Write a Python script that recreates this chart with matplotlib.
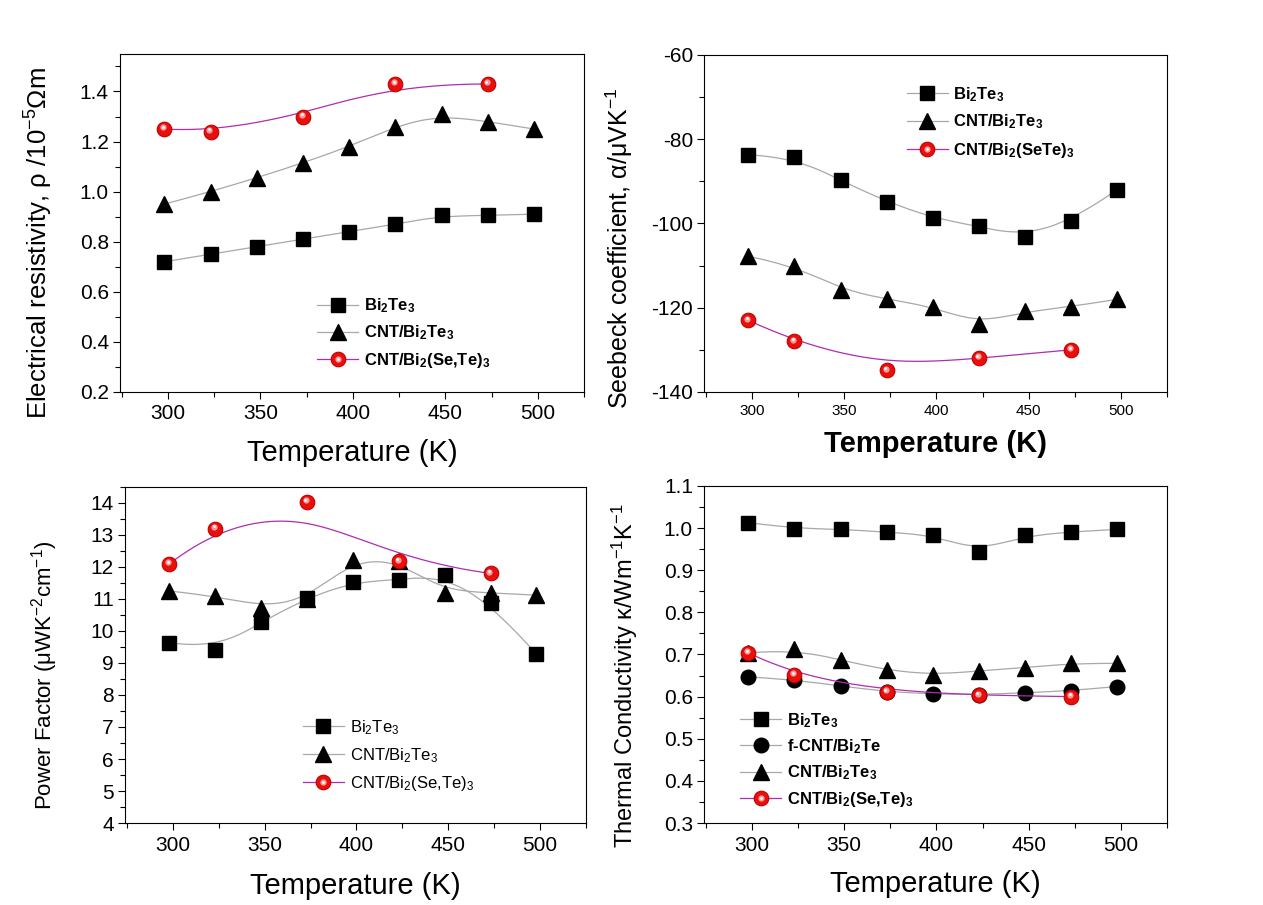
import numpy as np
import matplotlib
matplotlib.use("Agg")
import matplotlib.pyplot as plt
from matplotlib.ticker import MultipleLocator, FormatStrFormatter
from matplotlib.lines import Line2D
from matplotlib.legend_handler import HandlerTuple
import matplotlib.transforms as mtransforms

plt.rcParams['font.family'] = ['Liberation Sans', 'DejaVu Sans']
plt.rcParams['mathtext.fontset'] = 'custom'
plt.rcParams['mathtext.rm'] = 'Liberation Sans'
plt.rcParams['mathtext.it'] = 'Liberation Sans:italic'
plt.rcParams['mathtext.bf'] = 'Liberation Sans:bold'
plt.rcParams['axes.unicode_minus'] = False

# ---------------- data ----------------
T_all = [298, 323, 348, 373, 398, 423, 448, 473, 498]
T_se = [298, 323, 373, 423, 473]

# Electrical resistivity (10^-5 Ohm m)
rho_bt = [0.72, 0.75, 0.78, 0.81, 0.84, 0.87, 0.905, 0.905, 0.91]
rho_cnt = [0.95, 1.00, 1.055, 1.115, 1.18, 1.26, 1.31, 1.28, 1.25]
rho_se = [1.25, 1.24, 1.30, 1.43, 1.43]

# Seebeck coefficient (uV/K)
s_bt = [-83.7, -84.3, -89.8, -94.8, -98.7, -100.7, -103.2, -99.5, -92.0]
s_cnt = [-107.8, -110.0, -115.8, -117.9, -119.8, -123.8, -120.8, -119.8, -118.0]
s_se = [-123.0, -128.0, -134.9, -131.9, -130.0]

# Power factor (uW K^-2 cm^-1)
pf_bt = [9.64, 9.42, 10.28, 11.02, 11.53, 11.60, 11.76, 10.88, 9.28]
pf_cnt = [11.25, 11.10, 10.72, 11.0, 12.22, 12.2, 11.18, 11.2, 11.12]
pf_se = [12.09, 13.2, 14.03, 12.18, 11.8]

# Thermal conductivity (W m^-1 K^-1)
k_bt = [1.013, 0.999, 0.998, 0.990, 0.984, 0.944, 0.984, 0.991, 0.997]
k_fcnt = [0.647, 0.640, 0.625, 0.612, 0.606, 0.605, 0.609, 0.614, 0.624]
k_cnt = [0.704, 0.712, 0.687, 0.663, 0.652, 0.661, 0.669, 0.679, 0.679]
k_se = [0.704, 0.651, 0.611, 0.603, 0.600]

lab_bt = r'Bi$_\mathregular{2}$Te$_\mathregular{3}$'
lab_cnt = r'CNT/Bi$_\mathregular{2}$Te$_\mathregular{3}$'
lab_se = r'CNT/Bi$_\mathregular{2}$(Se,Te)$_\mathregular{3}$'
lab_se2 = r'CNT/Bi$_\mathregular{2}$(SeTe)$_\mathregular{3}$'
lab_fcnt = r'f-CNT/Bi$_\mathregular{2}$Te'

GRAY = '#a8a8a8'
MAG = '#b02cb0'


def bspline(x, y, n=400):
    """Clamped cubic B-spline using the data points as control points
    (like Origin's B-spline connection)."""
    P = np.column_stack([np.asarray(x, float), np.asarray(y, float)])
    m = len(P)
    k = min(3, m - 1)
    inner = np.linspace(0, 1, m - k + 1)
    knots = np.concatenate([np.zeros(k), inner, np.ones(k)])
    t = np.linspace(0, 1, n)
    t[-1] = 1 - 1e-12
    N = np.zeros((n, len(knots) - 1))
    for i in range(len(knots) - 1):
        N[:, i] = (t >= knots[i]) & (t < knots[i + 1])
    for d in range(1, k + 1):
        Nn = np.zeros((n, len(knots) - 1 - d))
        for i in range(len(knots) - 1 - d):
            a = knots[i + d] - knots[i]
            b = knots[i + d + 1] - knots[i + 1]
            term = np.zeros(n)
            if a > 0:
                term += (t - knots[i]) / a * N[:, i]
            if b > 0:
                term += (knots[i + d + 1] - t) / b * N[:, i + 1]
            Nn[:, i] = term
        N = Nn
    C = N @ P
    return C[:, 0], C[:, 1]


fig = plt.figure(figsize=(12.63, 9.05), dpi=100)

ax1 = fig.add_axes([0.0950, 0.5669, 0.3674, 0.3735])
ax2 = fig.add_axes([0.5574, 0.5669, 0.3666, 0.3724])
ax3 = fig.add_axes([0.0990, 0.0906, 0.3650, 0.3713])
ax4 = fig.add_axes([0.5574, 0.0906, 0.3666, 0.3724])


def black_series(ax, x, y, marker, ms, zorder=3):
    xs, ys = bspline(x, y)
    ax.plot(xs, ys, color=GRAY, lw=0.9, zorder=zorder - 1)
    ax.plot(x, y, ls='none', marker=marker, ms=ms, color='black', mec='black',
            zorder=zorder)
    return Line2D([], [], color=GRAY, lw=0.9, marker=marker, ms=ms,
                  mfc='black', mec='black')


def red_series(ax, x, y, zorder=5):
    xs, ys = bspline(x, y)
    ax.plot(xs, ys, color=MAG, lw=0.9, zorder=zorder - 1)
    ax.plot(x, y, ls='none', marker='o', ms=10.5, mfc='#e8100c', mec='#c00000',
            mew=0.8, zorder=zorder)
    tr = mtransforms.offset_copy(ax.transData, fig=fig, x=-0.8, y=1.2, units='points')
    ax.plot(x, y, ls='none', marker='o', ms=4.5, mfc='#ff9a9a', mec='none',
            transform=tr, zorder=zorder + 0.1)
    tr2 = mtransforms.offset_copy(ax.transData, fig=fig, x=-1.0, y=1.6, units='points')
    ax.plot(x, y, ls='none', marker='o', ms=2.0, mfc='white', mec='none',
            transform=tr2, zorder=zorder + 0.2)
    h1 = Line2D([], [], color=MAG, lw=0.9, marker='o', ms=10.5, mfc='#e8100c',
                mec='#c00000', mew=0.8)
    h2 = Line2D([], [], ls='none', marker='o', ms=4.5, mfc='#ff9a9a', mec='none')
    h3 = Line2D([], [], ls='none', marker='o', ms=2.0, mfc='white', mec='none')
    return (h1, h2, h3)


def style(ax, ylo, yhi, ymaj, ymin, xtick_size, ytick_size):
    ax.set_xlim(274, 525)
    ax.set_ylim(ylo, yhi)
    ax.xaxis.set_major_locator(MultipleLocator(50))
    ax.xaxis.set_minor_locator(MultipleLocator(25))
    ax.yaxis.set_major_locator(MultipleLocator(ymaj))
    ax.yaxis.set_minor_locator(MultipleLocator(ymin))
    ax.tick_params(which='both', direction='out', top=False, right=False, width=0.8)
    ax.tick_params(which='major', length=5)
    ax.tick_params(which='minor', length=3.5)
    ax.tick_params(axis='x', labelsize=xtick_size, pad=4)
    ax.tick_params(axis='y', labelsize=ytick_size, pad=3)
    for s in ax.spines.values():
        s.set_linewidth(0.8)


def add_legend(ax, handles, labels, anchor, weight, spacing):
    ax.legend(handles, labels, handler_map={tuple: HandlerTuple(ndivide=1)},
              loc='upper left', bbox_to_anchor=anchor, frameon=False,
              prop={'size': 12, 'weight': weight}, handlelength=2.45,
              handletextpad=0.35, labelspacing=spacing, borderpad=0,
              borderaxespad=0)


# ---- Panel 1: resistivity ----
h_bt = black_series(ax1, T_all, rho_bt, 's', 10)
h_cnt = black_series(ax1, T_all, rho_cnt, '^', 11)
h_se = red_series(ax1, T_se, rho_se)
style(ax1, 0.2, 1.55, 0.2, 0.1, 15, 15)
ax1.yaxis.set_major_formatter(FormatStrFormatter('%.1f'))
ax1.set_xlabel('Temperature (K)', fontsize=21)
ax1.set_ylabel(r'Electrical resistivity, ρ /10$^\mathregular{-5}$Ωm', fontsize=18.5)
ax1.xaxis.set_label_coords(0.5, -0.139)
ax1.yaxis.set_label_coords(-0.141, 0.44)
add_legend(ax1, [h_bt, h_cnt, h_se], [lab_bt, lab_cnt, lab_se],
           (0.425, 0.282), 'bold', 0.5)

# ---- Panel 2: Seebeck ----
h_bt = black_series(ax2, T_all, s_bt, 's', 10)
h_cnt = black_series(ax2, T_all, s_cnt, '^', 11)
h_se = red_series(ax2, T_se, s_se)
style(ax2, -140, -60, 20, 10, 11, 15)
ax2.set_xlabel('Temperature (K)', fontsize=21, fontweight='bold')
ax2.set_ylabel(r'Seebeck coefficient, α/μVK$^\mathregular{-1}$', fontsize=18)
ax2.xaxis.set_label_coords(0.5, -0.113)
ax2.yaxis.set_label_coords(-0.149, 0.427)
add_legend(ax2, [h_bt, h_cnt, h_se], [lab_bt, lab_cnt, lab_se2],
           (0.438, 0.911), 'bold', 0.55)

# ---- Panel 3: power factor ----
h_bt = black_series(ax3, T_all, pf_bt, 's', 10)
h_cnt = black_series(ax3, T_all, pf_cnt, '^', 11)
h_se = red_series(ax3, T_se, pf_se)
style(ax3, 4, 14.5, 1, 0.5, 15, 15)
ax3.set_xlabel('Temperature (K)', fontsize=21)
ax3.set_ylabel(r'Power Factor (μWK$^\mathregular{-2}$cm$^\mathregular{-1}$)', fontsize=16)
ax3.xaxis.set_label_coords(0.5, -0.146)
ax3.yaxis.set_label_coords(-0.141, 0.44)
add_legend(ax3, [h_bt, h_cnt, h_se], [lab_bt, lab_cnt, lab_se],
           (0.386, 0.312), 'normal', 0.55)

# ---- Panel 4: thermal conductivity ----
h_bt = black_series(ax4, T_all, k_bt, 's', 10)
h_fcnt = black_series(ax4, T_all, k_fcnt, 'o', 10.5, zorder=3)
h_cnt = black_series(ax4, T_all, k_cnt, '^', 11)
h_se = red_series(ax4, T_se, k_se)
style(ax4, 0.3, 1.1, 0.1, 0.05, 15, 15)
ax4.yaxis.set_major_formatter(FormatStrFormatter('%.1f'))
ax4.set_xlabel('Temperature (K)', fontsize=21)
ax4.set_ylabel(r'Thermal Conductivity κ/Wm$^\mathregular{-1}$K$^\mathregular{-1}$', fontsize=17)
ax4.xaxis.set_label_coords(0.5, -0.139)
ax4.yaxis.set_label_coords(-0.138, 0.436)
add_legend(ax4, [h_bt, h_fcnt, h_cnt, h_se], [lab_bt, lab_fcnt, lab_cnt, lab_se],
           (0.078, 0.332), 'bold', 0.45)

fig.savefig('out.png', dpi=100)
